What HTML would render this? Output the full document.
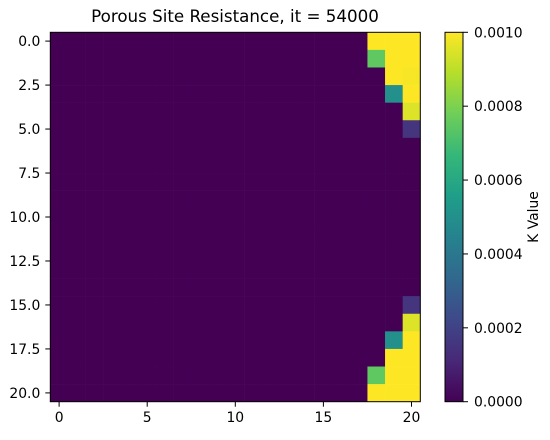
<!DOCTYPE html>
<html><head><meta charset="utf-8"><style>
body{margin:0;background:#fff}
svg text{font-family:"DejaVu Sans","Liberation Sans",sans-serif;fill:#000}
</style></head><body>
<svg id="chart" width="550" height="435" viewBox="0 0 550 435">
<text x="235" y="22" font-size="16.7" text-anchor="middle">Porous Site Resistance, it = 54000</text>
<g id="cells"></g>
<rect x="50.3" y="32.3" width="370" height="369.4" fill="none" stroke="#000" stroke-width="1"/>
<g id="axes"></g>
<defs><linearGradient id="vg" x1="0" y1="1" x2="0" y2="0">
</linearGradient></defs>
<rect id="cbar" x="445" y="32.3" width="18" height="369.4" fill="url(#vg)" stroke="#000" stroke-width="1"/>
<text transform="translate(538,217) rotate(-90)" font-size="13.9" text-anchor="middle">K Value</text>
</svg>
<script>
const nRows = 21, nCols = 21;
const xTicks = [0, 5, 10, 15, 20];
const yTicks = [0, 2.5, 5, 7.5, 10, 12.5, 15, 17.5, 20];
const cbTicks = [0, 0.0002, 0.0004, 0.0006, 0.0008, 0.001];
const cbTickLabels = ["0.0000", "0.0002", "0.0004", "0.0006", "0.0008", "0.0010"];
// nonzero cells: [row, col, value]
const cellRows = [0,0,0, 1,1,1, 2,2, 3,3, 4, 5, 15, 16, 17,17, 18,18, 19,19,19, 20,20,20];
const cellCols = [18,19,20, 18,19,20, 19,20, 19,20, 20, 20, 20, 20, 19,20, 19,20, 18,19,20, 18,19,20];
const cellVals = [0.001,0.001,0.001, 0.00075,0.001,0.001, 0.001,0.00099, 0.0005,0.001, 0.00095, 0.00015, 0.00015, 0.00095, 0.0005,0.001, 0.001,0.001, 0.00075,0.001,0.001, 0.001,0.001,0.001];
const vmax = 0.001;

const L = 50.3, T = 32.3, W = 370, H = 369.4;
const cw = W / nCols, ch = H / nRows;
const xPos = c => L + (c + 0.5) * cw;
const yPos = r => T + (r + 0.5) * ch;
const vir = ["#440154","#482878","#3e4989","#31688e","#26828e","#1f9e89","#35b779","#6ece58","#b5de2b","#fde725"];
function hex(h){return [1,3,5].map(i=>parseInt(h.substr(i,2),16));}
function cmap(t){t=Math.max(0,Math.min(1,t));const p=t*(vir.length-1),i=Math.min(Math.floor(p),vir.length-2),f=p-i;
 const a=hex(vir[i]),b=hex(vir[i+1]);return "rgb("+a.map((v,k)=>Math.round(v+(b[k]-v)*f)).join(",")+")";}
const NS = "http://www.w3.org/2000/svg";
const mk = (t, a) => { const e = document.createElementNS(NS, t); for (const k in a) e.setAttribute(k, a[k]); return e; };

const g = document.getElementById("cells");
const grid = [];
for (let r = 0; r < nRows; r++) { grid.push(new Array(nCols).fill(0)); }
cellRows.forEach((r, i) => { grid[r][cellCols[i]] = cellVals[i]; });
for (let r = 0; r < nRows; r++) for (let c = 0; c < nCols; c++) {
  const el = mk("rect", {x: xPos(c) - cw/2, y: yPos(r) - ch/2, width: cw + 0.3, height: ch + 0.3, fill: cmap(grid[r][c] / vmax)});
  
  
  g.appendChild(el);
}
const ax = document.getElementById("axes");
xTicks.forEach(v => {
  const x = xPos(v);
  const ln = mk("line", {x1: x, x2: x, y1: T + H, y2: T + H + 5, stroke: "#000"});
  
  
  ax.appendChild(ln);
  const t = mk("text", {x: x, y: T + H + 20.5, "font-size": 13.9, "text-anchor": "middle"});
  t.textContent = v;
  
  
  ax.appendChild(t);
});
yTicks.forEach(v => {
  const y = yPos(v);
  const ln = mk("line", {x1: L - 5, x2: L, y1: y, y2: y, stroke: "#000"});
  
  
  ax.appendChild(ln);
  const t = mk("text", {x: L - 10, y: y + 5, "font-size": 13.9, "text-anchor": "end"});
  t.textContent = v.toFixed(1);
  
  
  ax.appendChild(t);
});
const grad = document.getElementById("vg");
vir.forEach((c, i) => { grad.appendChild(mk("stop", {offset: (i/(vir.length-1)), "stop-color": c})); });
const cbY = v => T + H - v / vmax * H;
cbTicks.forEach((v, i) => {
  const y = cbY(v);
  const ln = mk("line", {x1: 463, x2: 468, y1: y, y2: y, stroke: "#000"});
  
  
  ax.appendChild(ln);
  const t = mk("text", {x: 474, y: y + 5, "font-size": 13.9});
  t.textContent = cbTickLabels[i];
  
  
  ax.appendChild(t);
});
</script>
</body></html>
